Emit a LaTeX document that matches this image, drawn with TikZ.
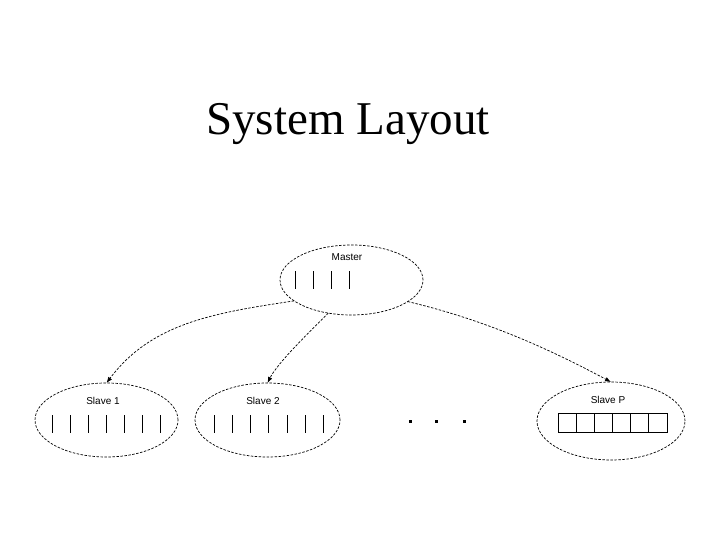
\documentclass[tikz,border=0pt]{standalone}
\usepackage{fontspec}
\setmainfont{Liberation Serif}
\newfontfamily\lblfont{Liberation Sans}
\usetikzlibrary{shapes.geometric,arrows.meta,calc}
\tikzset{
  proc/.style={ellipse, draw, dash pattern=on 2.5pt off 1.5pt, line width=0.7pt, inner sep=0pt, outer sep=0pt},
  lbl/.style={font=\lblfont\fontsize{10}{12}\selectfont, inner sep=0pt},
  link/.style={draw, dash pattern=on 2.5pt off 1.5pt, line width=0.7pt, -{Latex[length=6pt,width=4.5pt]}},
  bar/.style={line width=0.9pt},
  dotbox/.style={fill=black, minimum size=3pt, inner sep=0pt}
}
\begin{document}
\begin{tikzpicture}[x=1pt,y=1pt]
\useasboundingbox (0,0) rectangle (720,540);
\fill[white] (0,0) rectangle (720,540);
\node[font=\fontsize{47}{56}\selectfont, anchor=base, inner sep=0pt] (title) at (348,405) {System Layout};

\node[proc, minimum width=143pt, minimum height=70pt] (m) at (351.5,260) {};
\node[proc, minimum width=143pt, minimum height=74pt] (s1) at (106.5,120) {};
\node[proc, minimum width=145pt, minimum height=74pt] (s2) at (267.5,120) {};
\node[proc, minimum width=148pt, minimum height=78pt] (sp) at (611,119) {};

\node[lbl] (ml) at (347,283) {Master};
\node[lbl] (s1l) at (103,139) {Slave 1};
\node[lbl] (s2l) at (263,139) {Slave 2};
\node[lbl] (spl) at (608,140) {Slave P};

\foreach \i in {0,...,3} \draw[bar] ({295+18.3*\i},251) -- ({295+18.3*\i},269);
\foreach \i in {0,...,6} \draw[bar] ({52.7+18*\i},107) -- ({52.7+18*\i},125);
\foreach \i in {0,...,6} \draw[bar] ({214.3+18.17*\i},107) -- ({214.3+18.17*\i},125);
\foreach \i in {0,...,5} \draw[bar] ({558+18.17*\i},108) rectangle ({558+18.17*(\i+1)},127);

\node[dotbox] (d1) at (410,118.3) {};
\node[dotbox] (d2) at (436.7,118.3) {};
\node[dotbox] (d3) at (464,118.3) {};

\draw[link] (m.200) .. controls ($(m.200)+(-80,-12)$) and ($(s1.north)+(45,60)$) .. (s1.north);
\draw[link] (m.235) .. controls ($(m.235)+(-20,-20)$) and ($(s2.north)+(10,20)$) .. (s2.north);
\draw[link] (m.-21) .. controls ($(m.-21)+(80,-19)$) and ($(sp.north)+(-60,32)$) .. (sp.north);
\end{tikzpicture}
\end{document}
